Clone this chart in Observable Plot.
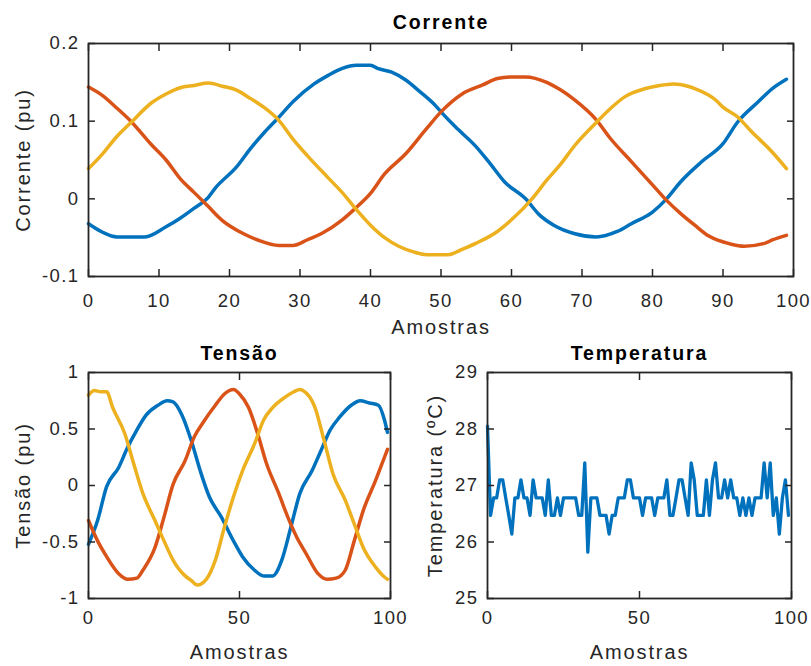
<!DOCTYPE html>
<html>
<head>
<meta charset="utf-8">
<script src="https://cdn.jsdelivr.net/npm/d3@7"></script>
<script src="https://cdn.jsdelivr.net/npm/@observablehq/plot@0.6"></script>
<style>
  body { margin: 0; background: #fff; }
  #fig { position: relative; width: 811px; height: 666px; background: #fff; overflow: hidden; }
  #fig > div { position: absolute; }
  #fig svg { overflow: visible; }
</style>
</head>
<body>
<div id="fig">
  <div id="p1" style="left:0;top:0"></div>
  <div id="p2" style="left:0;top:340px"></div>
  <div id="p3" style="left:400px;top:340px"></div>
</div>
<script>
// ---------- DATA ----------
const amostraTicks = [0, 10, 20, 30, 40, 50, 60, 70, 80, 90, 100];
const amostraTicksBottom = [0, 50, 100];
const correnteTicks = [-0.1, 0, 0.1, 0.2];
const tensaoTicks = [-1, -0.5, 0, 0.5, 1];
const temperaturaTicks = [25, 26, 27, 28, 29];

// Corrente (pu): [amostra, valor]
const correnteA = [[0,-0.032],[2,-0.043],[4,-0.049],[6,-0.049],[8,-0.049],[11,-0.036],[13,-0.025],[15,-0.012],[17,0.002],[18,0.014],[21,0.041],[23,0.065],[25,0.086],[27,0.105],[29,0.125],[32,0.148],[34,0.159],[36,0.168],[38,0.172],[40,0.172],[41,0.168],[43,0.163],[45,0.153],[47,0.138],[49,0.122],[50,0.112],[52,0.093],[55,0.067],[57,0.045],[59,0.022],[62,0.000],[64,-0.021],[66,-0.034],[69,-0.045],[72,-0.049],[75,-0.042],[77,-0.032],[80,-0.017],[82,0.000],[84,0.022],[87,0.048],[90,0.071],[92,0.098],[95,0.125],[97,0.142],[99,0.154]];
const correnteB = [[0,0.144],[2,0.133],[4,0.117],[6,0.100],[9,0.069],[11,0.050],[13,0.026],[15,0.008],[17,-0.010],[19,-0.028],[22,-0.045],[24,-0.053],[27,-0.060],[29,-0.060],[31,-0.053],[33,-0.045],[36,-0.027],[38,-0.011],[40,0.007],[42,0.032],[45,0.058],[48,0.091],[50,0.112],[53,0.135],[56,0.147],[58,0.155],[60,0.157],[62,0.157],[65,0.150],[67,0.140],[69,0.127],[72,0.102],[74,0.078],[77,0.048],[80,0.018],[82,-0.002],[84,-0.019],[86,-0.034],[88,-0.048],[91,-0.058],[93,-0.061],[96,-0.057],[97,-0.053],[99,-0.047]];
const correnteC = [[0,0.039],[2,0.058],[4,0.080],[6,0.098],[9,0.124],[11,0.135],[13,0.143],[15,0.146],[17,0.149],[19,0.145],[21,0.140],[23,0.129],[25,0.117],[27,0.101],[29,0.077],[31,0.056],[34,0.027],[36,0.008],[38,-0.014],[40,-0.034],[42,-0.050],[44,-0.061],[46,-0.068],[48,-0.072],[51,-0.072],[53,-0.065],[55,-0.057],[58,-0.042],[60,-0.027],[63,0.001],[65,0.024],[67,0.045],[69,0.069],[72,0.098],[74,0.116],[76,0.131],[79,0.142],[81,0.146],[83,0.148],[85,0.145],[86,0.142],[89,0.127],[90,0.118],[92,0.106],[94,0.087],[97,0.060],[99,0.039]];

// Tensão (pu): [amostra, valor]
const tensaoA = [[0,-0.52],[3,-0.31],[6,-0.01],[10,0.16],[13,0.34],[16,0.49],[19,0.62],[23,0.71],[26,0.75],[28,0.74],[31,0.62],[34,0.40],[37,0.13],[40,-0.10],[44,-0.28],[48,-0.49],[51,-0.63],[55,-0.75],[58,-0.80],[61,-0.80],[64,-0.66],[67,-0.37],[70,-0.07],[74,0.13],[77,0.31],[80,0.49],[83,0.60],[87,0.71],[90,0.75],[93,0.73],[96,0.71],[98,0.58],[99,0.47]];
const tensaoB = [[0,-0.31],[3,-0.49],[6,-0.63],[10,-0.78],[13,-0.83],[16,-0.82],[18,-0.75],[22,-0.55],[25,-0.28],[28,0.01],[32,0.22],[35,0.43],[38,0.56],[42,0.71],[45,0.81],[48,0.85],[50,0.81],[53,0.69],[56,0.46],[59,0.19],[63,-0.07],[66,-0.28],[69,-0.46],[72,-0.60],[76,-0.78],[79,-0.83],[82,-0.82],[85,-0.75],[88,-0.49],[91,-0.22],[95,0.04],[98,0.25],[99,0.32]];
const tensaoC = [[0,0.80],[2,0.84],[4,0.83],[6,0.83],[8,0.69],[12,0.46],[15,0.19],[18,-0.07],[22,-0.31],[25,-0.49],[28,-0.66],[32,-0.80],[34,-0.84],[36,-0.88],[39,-0.83],[42,-0.66],[45,-0.37],[48,-0.10],[51,0.13],[55,0.37],[58,0.58],[61,0.69],[65,0.78],[68,0.83],[70,0.85],[71,0.84],[75,0.69],[78,0.40],[81,0.10],[85,-0.13],[88,-0.34],[91,-0.55],[95,-0.72],[98,-0.81],[99,-0.83]];

// Temperatura (ºC), amostras 0..99
const temperatura = [28.05,26.47,26.78,26.78,27.1,27.1,26.78,26.47,26.14,26.78,
  26.78,27.1,26.78,26.78,26.47,27.1,26.78,26.78,26.78,26.47,
  27.1,26.47,26.47,26.78,26.47,26.78,26.78,26.78,26.78,26.78,
  26.47,26.47,27.4,25.82,26.78,26.78,26.78,26.47,26.47,26.47,
  26.14,26.47,26.47,26.78,26.78,26.78,27.1,27.1,26.78,26.78,
  26.78,26.47,26.78,26.78,26.78,26.47,26.78,26.78,26.78,27.1,
  26.47,26.47,26.78,27.1,27.1,26.78,26.47,27.4,27.1,26.47,
  26.47,26.47,27.1,26.47,27.1,27.4,26.78,26.78,27.1,26.78,
  27.1,26.78,26.78,26.47,26.78,26.47,26.78,26.47,26.78,26.78,
  26.78,27.4,26.78,27.4,26.47,26.78,26.14,26.78,27.1,26.47];

// ---------- STYLE ----------
const cores = ["#0072BD", "#D95319", "#EDB120"];
const axisColor = "#262626";
const FONT = "'Liberation Sans', Arial, Helvetica, sans-serif";
const tickFont = 18.5, labelFont = 20, titleFont = 19.5;
const fmt = d => String(d);

function axes(xt, yt, xPad) {
  return [
    Plot.axisX({ticks: xt, tickSize: 0, tickPadding: xPad, tickFormat: fmt, fontSize: tickFont, fill: axisColor}),
    Plot.axisX({ticks: xt, anchor: "bottom", tickSize: -7, tickFormat: () => "", stroke: axisColor, strokeWidth: 1.5}),
    Plot.axisX({ticks: xt, anchor: "top", tickSize: -7, tickFormat: () => "", stroke: axisColor, strokeWidth: 1.5}),
    Plot.axisY({ticks: yt, tickSize: 0, tickPadding: 9, tickFormat: fmt, fontSize: tickFont, fill: axisColor}),
    Plot.axisY({ticks: yt, anchor: "left", tickSize: -7, tickFormat: () => "", stroke: axisColor, strokeWidth: 1.5}),
    Plot.axisY({ticks: yt, anchor: "right", tickSize: -7, tickFormat: () => "", stroke: axisColor, strokeWidth: 1.5})
  ];
}
function texts(title, xl, yl, titleDy, xlDy, ylDx) {
  return [
    Plot.text([title], {text: d => d, frameAnchor: "top", dy: titleDy, textAnchor: "middle", lineAnchor: "middle", fontSize: titleFont, fontWeight: "bold", fill: "#000"}),
    Plot.text([xl], {text: d => d, frameAnchor: "bottom", dy: xlDy, textAnchor: "middle", lineAnchor: "middle", fontSize: labelFont, fill: axisColor}),
    Plot.text([yl], {text: d => d, frameAnchor: "left", dx: ylDx, rotate: -90, textAnchor: "middle", lineAnchor: "middle", fontSize: labelFont, fill: axisColor})
  ];
}
function lines(series, w) {
  return series.map((s, i) => Plot.line(s, {x: d => d[0], y: d => d[1], stroke: cores[i], strokeWidth: w, strokeLinejoin: "round", curve: "monotone-x"}));
}
function spacing(svg) {
  d3.select(svg).selectAll("g[aria-label='text'] text").style("letter-spacing", "1.9px");
  d3.select(svg).selectAll("g[aria-label$='tick label'] text").style("letter-spacing", "1.4px");
  return svg;
}

// ---------- Corrente ----------
const p1 = Plot.plot({
  width: 811, height: 340,
  marginLeft: 88, marginRight: 18, marginTop: 43, marginBottom: 64,
  style: {fontFamily: FONT, background: "transparent", overflow: "visible"},
  x: {domain: [0, 100], label: null},
  y: {domain: [-0.1, 0.2], label: null},
  marks: [
    ...lines([correnteA, correnteB, correnteC], 3.5),
    Plot.frame({stroke: axisColor, strokeWidth: 1.8}),
    ...axes(amostraTicks, correnteTicks, 17),
    ...texts("Corrente", "Amostras", "Corrente (pu)", -21, 51, -65)
  ]
});
document.getElementById("p1").append(spacing(p1));

// ---------- Tensão ----------
const p2 = Plot.plot({
  width: 400, height: 326,
  marginLeft: 88, marginRight: 10, marginTop: 32, marginBottom: 68,
  style: {fontFamily: FONT, background: "transparent", overflow: "visible"},
  x: {domain: [0, 100], label: null},
  y: {domain: [-1, 1], label: null},
  marks: [
    ...lines([tensaoA, tensaoB, tensaoC], 3.5),
    Plot.frame({stroke: axisColor, strokeWidth: 1.8}),
    ...axes(amostraTicksBottom, tensaoTicks, 12),
    ...texts("Tensão", "Amostras", "Tensão (pu)", -19, 54, -65)
  ]
});
document.getElementById("p2").append(spacing(p2));

// ---------- Temperatura ----------
const p3 = Plot.plot({
  width: 411, height: 326,
  marginLeft: 87, marginRight: 20, marginTop: 32, marginBottom: 68,
  style: {fontFamily: FONT, background: "transparent", overflow: "visible"},
  x: {domain: [0, 100], label: null},
  y: {domain: [25, 29], label: null},
  marks: [
    Plot.line(temperatura, {x: (d, i) => i, y: d => d, stroke: cores[0], strokeWidth: 3.3, strokeLinejoin: "round"}),
    Plot.frame({stroke: axisColor, strokeWidth: 1.8}),
    ...axes(amostraTicksBottom, temperaturaTicks, 12),
    ...texts("Temperatura", "Amostras", "Temperatura (ºC)", -19, 54, -52)
  ]
});
document.getElementById("p3").append(spacing(p3));
</script>
</body>
</html>
